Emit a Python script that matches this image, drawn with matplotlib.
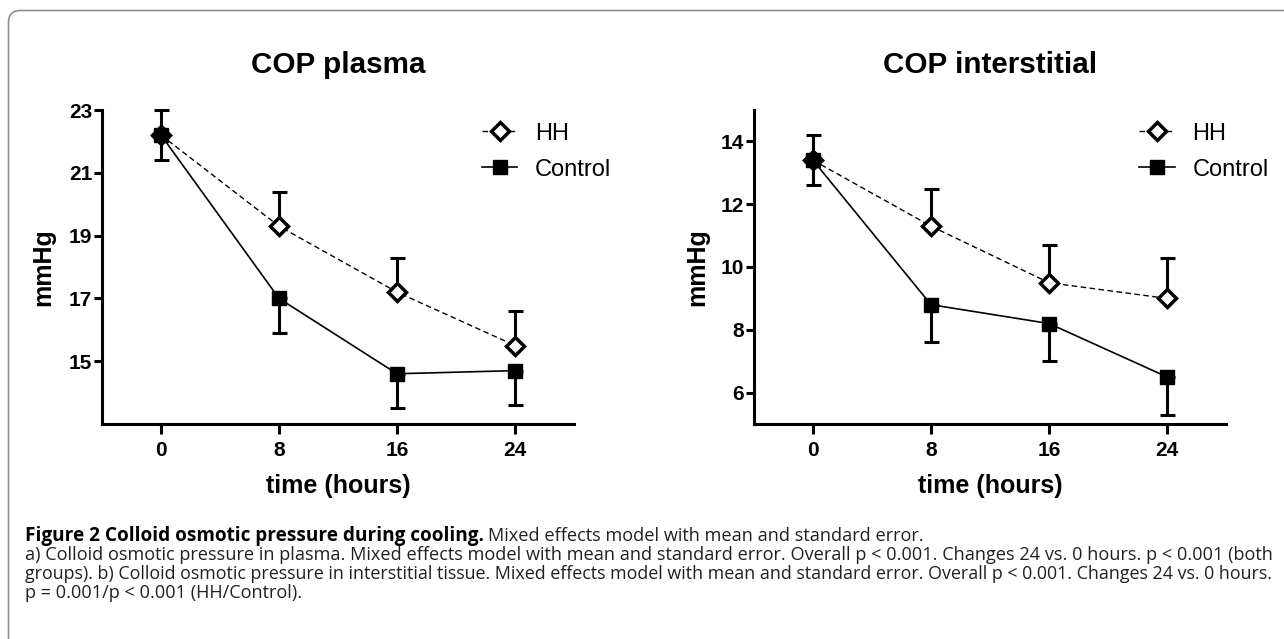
import numpy as np
import matplotlib
matplotlib.use('Agg')
import matplotlib.pyplot as plt
from matplotlib.patches import FancyBboxPatch
from matplotlib.transforms import IdentityTransform

# data (mean and standard error)
hours = [0, 8, 16, 24]
xticks = [0, 8, 16, 24]

plasma_hh = [22.2, 19.3, 17.2, 15.5]
plasma_hh_se = [0.8, 1.1, 1.1, 1.1]
plasma_ctrl = [22.2, 17.0, 14.6, 14.7]
plasma_ctrl_se = [0.8, 1.1, 1.1, 1.1]

inter_hh = [13.4, 11.3, 9.5, 9.0]
inter_hh_se = [0.8, 1.2, 1.2, 1.3]
inter_ctrl = [13.4, 8.8, 8.2, 6.5]
inter_ctrl_se = [0.8, 1.2, 1.2, 1.2]

W, H = 1284, 639
CH = ['Liberation Sans', 'Arial', 'DejaVu Sans']
CAP = ['Open Sans', 'DejaVu Sans']

fig = plt.figure(figsize=(W / 100, H / 100), dpi=100)


def make_panel(left_px, title, hh, hh_se, ctrl, ctrl_se, ylim, yticks, ylab_x, leg_x):
    ax = fig.add_axes([left_px / W, 1 - 424 / H, 472 / W, 314 / H])
    zeros = np.zeros(len(hh))
    # HH: dashed line, open diamond, upper error only
    ax.errorbar(hours, hh, yerr=[zeros, hh_se], fmt='none', ecolor='black',
                elinewidth=2.2, capsize=5.4, capthick=2.2, zorder=2, clip_on=False)
    ax.plot(hours, hh, color='black', lw=1.0, ls=(0, (4, 2.5)), marker='D', ms=9.5,
            mfc='white', mec='black', mew=2.5, zorder=3, clip_on=False, label='HH')
    # Control: solid line, filled square, lower error only
    ax.errorbar(hours, ctrl, yerr=[ctrl_se, zeros], fmt='none', ecolor='black',
                elinewidth=2.2, capsize=5.4, capthick=2.2, zorder=2, clip_on=False)
    ax.plot(hours, ctrl, color='black', lw=1.2, marker='s', ms=9.5,
            mfc='black', mec='black', zorder=4, clip_on=False, label='Control')

    ax.set_xlim(-4, 28)
    ax.set_ylim(*ylim)
    ax.set_xticks(xticks)
    ax.set_yticks(yticks)
    for s in ['top', 'right']:
        ax.spines[s].set_visible(False)
    for s in ['left', 'bottom']:
        ax.spines[s].set_linewidth(2.2)
    ax.tick_params(axis='y', length=6, width=2.2, pad=1)
    ax.tick_params(axis='x', length=7, width=2.2, pad=5)
    for lab in ax.get_xticklabels() + ax.get_yticklabels():
        lab.set_family(CH)
        lab.set_fontweight('bold')
        lab.set_fontsize(15)

    ax.set_xlabel('time (hours)', family=CH, fontweight='bold', fontsize=18, va='baseline')
    ax.xaxis.set_label_coords(0.5, -0.2197)
    ax.set_ylabel('mmHg', family=CH, fontweight='bold', fontsize=18, va='center')
    ax.yaxis.set_label_coords(ylab_x, 0.5)
    ax.text(0.5, 1.1178, title, transform=ax.transAxes, ha='center', va='baseline',
            family=CH, fontweight='bold', fontsize=21.3)

    ax.legend(loc='upper left', bbox_to_anchor=(leg_x, 0.96), frameon=False,
              borderpad=0, borderaxespad=0, handlelength=1.5, handletextpad=0.75,
              labelspacing=0.6, prop={'family': CH, 'size': 17})
    return ax


make_panel(102, 'COP plasma', plasma_hh, plasma_hh_se, plasma_ctrl, plasma_ctrl_se,
           (13, 23), [15, 17, 19, 21, 23], -0.1247, 0.805)
make_panel(754, 'COP interstitial', inter_hh, inter_hh_se, inter_ctrl, inter_ctrl_se,
           (5, 15), [6, 8, 10, 12, 14], -0.12, 0.816)

# rounded frame around the figure
frame = FancyBboxPatch((8.5, -40), 1400, H - 10.5 + 40,
                       boxstyle='round,pad=0,rounding_size=12',
                       transform=IdentityTransform(), fill=False,
                       edgecolor='#8f8f8f', lw=1.2)
fig.patches.append(frame)

# caption
renderer = fig.canvas.get_renderer()
cap_color = '#231f20'
x0 = 25
baselines = [541, 560, 579, 598]
bold_txt = 'Figure 2 Colloid osmotic pressure during cooling.'
rest_txt = 'Mixed effects model with mean and standard error.'
lines = [
    'a) Colloid osmotic pressure in plasma. Mixed effects model with mean and standard error. '
    'Overall p < 0.001. Changes 24 vs. 0 hours. p < 0.001 (both',
    'groups). b) Colloid osmotic pressure in interstitial tissue. Mixed effects model with mean '
    'and standard error. Overall p < 0.001. Changes 24 vs. 0 hours.',
    'p = 0.001/p < 0.001 (HH/Control).',
]
# justified lines end at these x positions in the reference
line_ends = [1270, 1273, None]


def fit_size(txt, width, weight='normal', base=11.0):
    t = fig.text(0, 0, txt, family=CAP, fontsize=base, fontweight=weight)
    w = t.get_window_extent(renderer).width
    t.remove()
    return base * width / w


size_a = fit_size(lines[0], line_ends[0] - x0)
size_b = fit_size(lines[1], line_ends[1] - x0)
size_bold = fit_size(bold_txt, 458, weight='bold')

bold = fig.text(x0 / W, 1 - baselines[0] / H, bold_txt, family=CAP, fontweight='bold',
                fontsize=size_bold, va='baseline', color='black')
bx = bold.get_window_extent(renderer).x1
fig.text((bx + 4) / W, 1 - baselines[0] / H, rest_txt,
         family=CAP, fontsize=size_a, va='baseline', color=cap_color)
for txt, yb, sz in zip(lines, baselines[1:], [size_a, size_b, size_a]):
    fig.text(x0 / W, 1 - yb / H, txt, family=CAP, fontsize=sz,
             va='baseline', color=cap_color)

fig.savefig('out.png', dpi=100)
